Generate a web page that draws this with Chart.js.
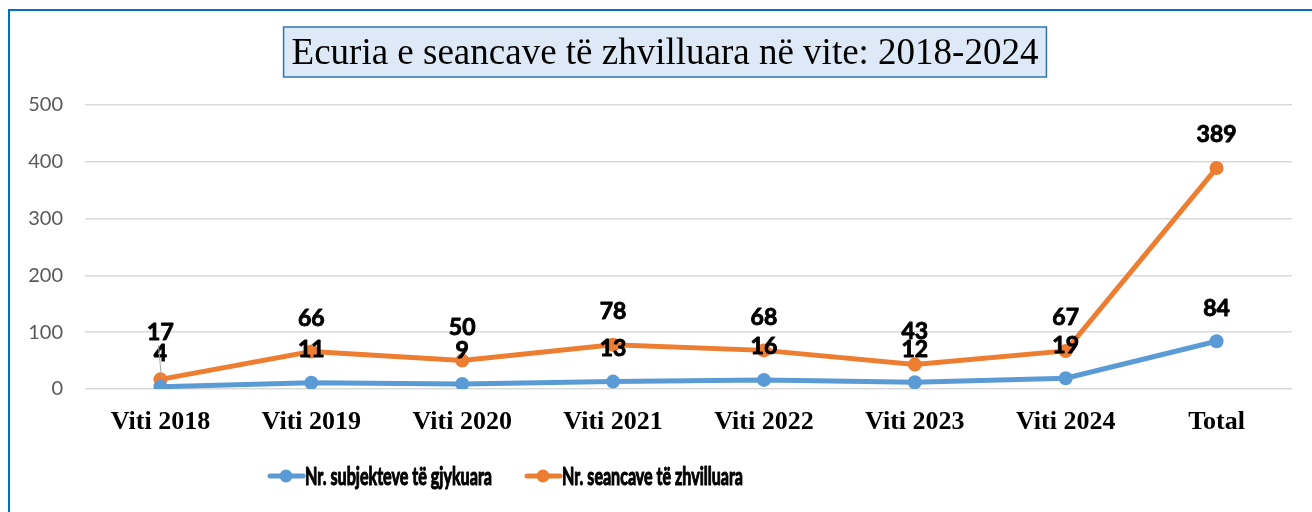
<!DOCTYPE html>
<html>
<head>
<meta charset="utf-8">
<script src="https://cdn.jsdelivr.net/npm/chart.js@4/dist/chart.umd.min.js"></script>
<style>
  html, body { margin: 0; padding: 0; background: #fff; }
  #wrap { position: relative; width: 1312px; height: 512px; overflow: hidden; }
  #frame { position: absolute; left: 8px; top: 9px; width: 1400px; height: 600px; border: 2px solid #0070c0; box-sizing: border-box; }
  canvas { position: absolute; left: 0; top: 0; }
</style>
</head>
<body>
<div id="wrap">
  <div id="frame"></div>
  <canvas id="myChart" width="1312" height="512"></canvas>
</div>
<script>
const titleText = "Ecuria e seancave të zhvilluara në vite: 2018-2024";

const labels = [
  "Viti 2018",
  "Viti 2019",
  "Viti 2020",
  "Viti 2021",
  "Viti 2022",
  "Viti 2023",
  "Viti 2024",
  "Total"
];

const subjektet = [4, 11, 9, 13, 16, 12, 19, 84];
const seancat = [17, 66, 50, 78, 68, 43, 67, 389];

const yTicks = [0, 100, 200, 300, 400, 500];

const blue = "#5b9bd5";
const orange = "#ed7d31";

// heavier black text: fill plus a thin stroke
function boldText(ctx, text, x, y, w) {
  ctx.fillStyle = "#000";
  ctx.strokeStyle = "#000";
  ctx.lineWidth = w;
  ctx.lineJoin = "round";
  ctx.strokeText(text, x, y);
  ctx.fillText(text, x, y);
}

//------- title box, value labels and legend --------
const decorations = {
  id: "decorations",
  afterDraw(chart) {
    const ctx = chart.ctx;
    ctx.save();

    // title in a light blue box
    ctx.font = "37px 'Liberation Serif'";
    const tw = ctx.measureText(titleText).width;
    const cx = 665;
    const bx = cx - tw / 2 - 8;
    ctx.fillStyle = "#dde9f6";
    ctx.fillRect(bx, 27, tw + 16, 50);
    ctx.strokeStyle = "#2e75b6";
    ctx.lineWidth = 1.5;
    ctx.strokeRect(bx, 27, tw + 16, 50);
    ctx.fillStyle = "#000";
    ctx.textAlign = "center";
    ctx.textBaseline = "middle";
    ctx.fillText(titleText, cx, 54);

    // values above the points
    ctx.font = "bold 23px Lato";
    chart.data.datasets.forEach((ds, di) => {
      const meta = chart.getDatasetMeta(di);
      meta.data.forEach((pt, i) => {
        let off = 33;
        if (di === 1 && i === 0) {
          // first orange label sits higher, with a leader line
          off = 47;
          ctx.strokeStyle = "#a6a6a6";
          ctx.lineWidth = 1;
          ctx.beginPath();
          ctx.moveTo(pt.x - 2, pt.y - 34);
          ctx.lineTo(pt.x + 1, pt.y - 2);
          ctx.stroke();
        }
        boldText(ctx, String(ds.data[i]), pt.x, pt.y - off, 0.9);
      });
    });

    // legend: line with a dot, then the name (narrow, like the original font)
    ctx.font = "bold 24px Lato";
    ctx.textAlign = "left";
    const items = [
      { x: 270, w: 187, ds: chart.data.datasets[0] },
      { x: 527, w: 181, ds: chart.data.datasets[1] }
    ];
    items.forEach((it) => {
      const y = 476;
      ctx.strokeStyle = it.ds.borderColor;
      ctx.lineWidth = 5;
      ctx.lineCap = "round";
      ctx.beginPath();
      ctx.moveTo(it.x, y);
      ctx.lineTo(it.x + 33, y);
      ctx.stroke();
      ctx.fillStyle = it.ds.borderColor;
      ctx.beginPath();
      ctx.arc(it.x + 16, y, 6.5, 0, Math.PI * 2);
      ctx.fill();
      const mw = ctx.measureText(it.ds.label).width;
      ctx.save();
      ctx.translate(it.x + 35, y + 1);
      ctx.scale(it.w / mw, 1);
      boldText(ctx, it.ds.label, 0, 0, 1.1);
      ctx.restore();
    });

    ctx.restore();
  }
};

const ctx = document.getElementById("myChart");

new Chart(ctx, {
  type: "line",
  data: {
    labels: labels,
    datasets: [
      {
        label: "Nr. subjekteve të gjykuara",
        data: subjektet,
        borderColor: blue,
        backgroundColor: blue,
        borderWidth: 5,
        pointRadius: 7,
        pointBorderWidth: 0,
        tension: 0
      },
      {
        label: "Nr. seancave të zhvilluara",
        data: seancat,
        borderColor: orange,
        backgroundColor: orange,
        borderWidth: 5,
        pointRadius: 7,
        pointBorderWidth: 0,
        tension: 0
      }
    ]
  },
  options: {
    responsive: false,
    animation: false,
    layout: { padding: { top: 105, right: 20, bottom: 0, left: 0 } },
    plugins: {
      legend: { display: false },
      title: { display: false },
      tooltip: { enabled: false }
    },
    scales: {
      x: {
        offset: true,
        grid: { display: false, drawTicks: false },
        border: { display: false },
        ticks: {
          color: "#000",
          padding: 18,
          font: { family: "'Liberation Serif'", size: 26, weight: "bold" }
        },
        afterFit: (s) => { s.height = 123; }
      },
      y: {
        min: yTicks[0],
        max: yTicks[yTicks.length - 1],
        afterBuildTicks: (s) => { s.ticks = yTicks.map((v) => ({ value: v })); },
        grid: { color: "#d9d9d9", lineWidth: 1.5, drawTicks: false },
        border: { display: false },
        ticks: {
          color: "#595959",
          padding: 22,
          font: { family: "Lato", size: 20 }
        },
        afterFit: (s) => { s.width = 85; }
      }
    }
  },
  plugins: [decorations]
});
</script>
</body>
</html>
